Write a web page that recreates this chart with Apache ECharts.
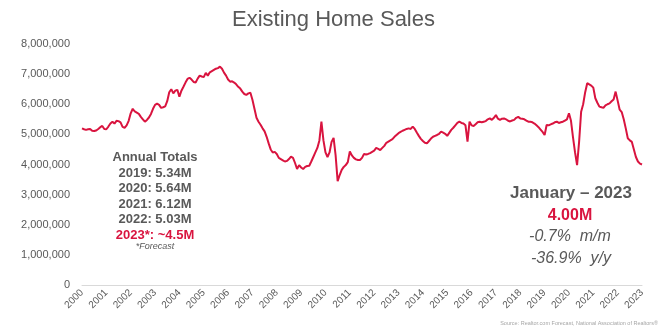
<!DOCTYPE html>
<html>
<head>
<meta charset="utf-8">
<script src="https://cdn.jsdelivr.net/npm/echarts@6/dist/echarts.min.js"></script>
<style>
  html, body { margin: 0; padding: 0; background: #fff; }
  #chart { width: 667px; height: 332px; }
</style>
</head>
<body>
<div id="chart"></div>
<script>
// tick labels (one per January)
const years = [2000, 2001, 2002, 2003, 2004, 2005, 2006, 2007, 2008, 2009, 2010, 2011,
  2012, 2013, 2014, 2015, 2016, 2017, 2018, 2019, 2020, 2021, 2022, 2023];

// monthly existing home sales, millions (SAAR), Jan 2000 .. Jan 2023
const sales = [
  5.20, 5.17, 5.15, 5.17, 5.18, 5.12, 5.11, 5.13, 5.18, 5.24, 5.28, 5.18, // 2000
  5.17, 5.26, 5.36, 5.42, 5.36, 5.45, 5.44, 5.40, 5.25, 5.22, 5.30, 5.45, // 2001
  5.70, 5.85, 5.76, 5.72, 5.68, 5.58, 5.50, 5.42, 5.48, 5.56, 5.68, 5.85, // 2002
  5.98, 6.02, 5.98, 5.88, 5.90, 5.93, 6.10, 6.40, 6.50, 6.36, 6.45, 6.48, // 2003
  6.25, 6.45, 6.58, 6.72, 6.84, 6.88, 6.82, 6.74, 6.72, 6.85, 6.95, 6.92, // 2004
  6.90, 7.04, 6.95, 7.06, 7.10, 7.14, 7.18, 7.20, 7.25, 7.18, 7.05, 6.95, // 2005
  6.82, 6.75, 6.76, 6.72, 6.66, 6.58, 6.52, 6.42, 6.34, 6.31, 6.36, 6.38, // 2006
  6.15, 5.85, 5.55, 5.42, 5.32, 5.20, 5.10, 4.92, 4.70, 4.50, 4.40, 4.42, // 2007
  4.35, 4.22, 4.18, 4.14, 4.10, 4.12, 4.18, 4.26, 4.22, 4.05, 3.85, 3.98, // 2008
  3.90, 3.85, 3.92, 3.95, 3.96, 4.10, 4.25, 4.40, 4.55, 4.80, 5.42, 4.80, // 2009
  4.40, 4.25, 4.40, 4.75, 4.88, 4.30, 3.45, 3.65, 3.82, 3.92, 3.98, 4.08, // 2010
  4.43, 4.30, 4.22, 4.17, 4.15, 4.15, 4.22, 4.35, 4.33, 4.35, 4.38, 4.42, // 2011
  4.46, 4.55, 4.52, 4.48, 4.55, 4.62, 4.72, 4.76, 4.80, 4.84, 4.92, 4.98, // 2012
  5.04, 5.08, 5.12, 5.15, 5.18, 5.20, 5.18, 5.26, 5.18, 5.06, 4.95, 4.85, // 2013
  4.78, 4.72, 4.70, 4.78, 4.86, 4.92, 4.95, 4.98, 5.02, 5.09, 5.06, 5.02, // 2014
  4.95, 5.05, 5.15, 5.22, 5.30, 5.38, 5.42, 5.38, 5.36, 5.30, 4.76, 5.42, // 2015
  5.30, 5.28, 5.34, 5.40, 5.42, 5.40, 5.42, 5.44, 5.50, 5.53, 5.48, 5.55, // 2016
  5.64, 5.52, 5.48, 5.52, 5.53, 5.50, 5.45, 5.43, 5.46, 5.48, 5.55, 5.58, // 2017
  5.53, 5.52, 5.50, 5.46, 5.42, 5.42, 5.40, 5.36, 5.30, 5.24, 5.16, 5.08, // 2018
  4.98, 5.31, 5.30, 5.33, 5.36, 5.40, 5.42, 5.38, 5.40, 5.42, 5.46, 5.50, // 2019
  5.70, 5.45, 4.90, 4.40, 3.98, 4.75, 5.75, 6.00, 6.40, 6.70, 6.66, 6.62, // 2020
  6.55, 6.20, 6.05, 5.92, 5.90, 5.88, 5.96, 6.00, 6.03, 6.10, 6.16, 6.42, // 2021
  6.12, 5.82, 5.74, 5.50, 5.20, 4.87, 4.80, 4.75, 4.50, 4.25, 4.10, 4.03, // 2022
  4.00                                                                    // 2023
];

const annualLines = ['Annual Totals', '2019: 5.34M', '2020: 5.64M', '2021: 6.12M', '2022: 5.03M'];
const forecastLine = '2023*: ~4.5M';

const grey = '#595959';
const red = '#d9143f';
const font = '"Liberation Sans", Arial, sans-serif';

// one category per month
const months = [];
sales.forEach((v, i) => {
  months.push(years[Math.floor(i / 12)] + '-' + String(i % 12 + 1).padStart(2, '0'));
});

const chart = echarts.init(document.getElementById('chart'));

const textEl = (x, y, text, opts) => ({
  type: 'text',
  left: x, top: y,
  style: Object.assign({ text: text, fill: grey, font: '13px ' + font, textAlign: 'center' }, opts)
});

const graphics = [];
annualLines.forEach((t, i) => {
  graphics.push({
    type: 'text', x: 155, y: 151 + i * 15.5,
    style: { text: t, fill: grey, font: 'bold 13px ' + font, textAlign: 'center' }
  });
});
graphics.push({
  type: 'text', x: 155, y: 151 + 5 * 15.5,
  style: { text: forecastLine, fill: red, font: 'bold 13px ' + font, textAlign: 'center' }
});
graphics.push({
  type: 'text', x: 155, y: 242,
  style: { text: '*Forecast', fill: grey, font: 'italic 9px ' + font, textAlign: 'center' }
});
graphics.push({
  type: 'text', x: 571, y: 185,
  style: { text: 'January \u2013 2023', fill: grey, font: 'bold 17px ' + font, textAlign: 'center' }
});
graphics.push({
  type: 'text', x: 570, y: 208,
  style: { text: '4.00M', fill: red, font: 'bold 16px ' + font, textAlign: 'center' }
});
graphics.push({
  type: 'text', x: 570, y: 229,
  style: { text: '-0.7%  m/m', fill: grey, font: 'italic 16px ' + font, textAlign: 'center' }
});
graphics.push({
  type: 'text', x: 571, y: 251,
  style: { text: '-36.9%  y/y', fill: grey, font: 'italic 16px ' + font, textAlign: 'center' }
});
graphics.push({
  type: 'text', x: 658, y: 320,
  style: { text: 'Source: Realtor.com Forecast, National Association of Realtors\u00ae', fill: '#a6a6a6', font: '5.5px ' + font, textAlign: 'right' }
});

chart.setOption({
  animation: false,
  title: {
    text: 'Existing Home Sales',
    left: 'center',
    top: 4,
    textStyle: { color: grey, fontFamily: font, fontWeight: 'normal', fontSize: 22 }
  },
  grid: { left: 82, right: 25, top: 44, bottom: 47 },
  xAxis: {
    type: 'category',
    data: months,
    boundaryGap: false,
    axisLine: { lineStyle: { color: '#d9d9d9', width: 1 } },
    axisTick: { show: false },
    axisLabel: {
      interval: 11,
      rotate: 45,
      margin: 6,
      color: grey,
      fontFamily: font,
      fontSize: 10,
      formatter: (v) => v.slice(0, 4)
    },
    splitLine: { show: false }
  },
  yAxis: {
    type: 'value',
    min: 0,
    max: 8000000,
    interval: 1000000,
    axisLine: { show: false },
    axisTick: { show: false },
    splitLine: { show: false },
    axisLabel: {
      margin: 12,
      color: grey,
      fontFamily: font,
      fontSize: 11,
      formatter: (v) => v.toLocaleString('en-US')
    }
  },
  series: [{
    type: 'line',
    data: sales.map((v) => v * 1000000),
    showSymbol: false,
    lineStyle: { color: red, width: 2 },
    itemStyle: { color: red }
  }],
  graphic: graphics
});
</script>
</body>
</html>
